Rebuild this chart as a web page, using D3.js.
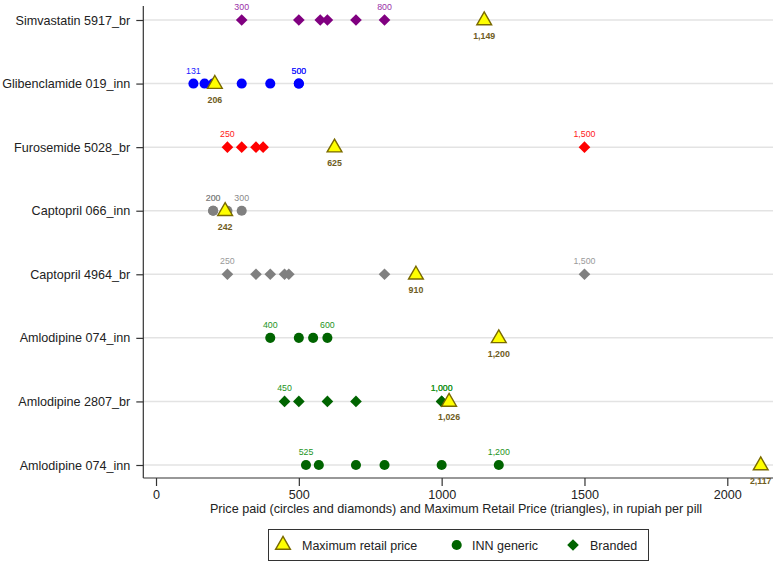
<!DOCTYPE html>
<html>
<head>
<meta charset="utf-8">
<script src="https://cdn.jsdelivr.net/npm/d3@7"></script>
<style>
  html, body { margin: 0; padding: 0; background: #fff; }
  svg { display: block; font-family: "Liberation Sans", Arial, Helvetica, sans-serif; }
</style>
</head>
<body>
<svg id="chart" width="777" height="563"></svg>
<script>
// ---- data ----
const categories = [
  "Simvastatin 5917_br",
  "Glibenclamide 019_inn",
  "Furosemide 5028_br",
  "Captopril 066_inn",
  "Captopril 4964_br",
  "Amlodipine 074_inn",
  "Amlodipine 2807_br",
  "Amlodipine 074_inn "
];
const markerTypes = ["diamond", "circle", "diamond", "circle", "diamond", "circle", "diamond", "circle"];
const markerColors = ["#800080", "#0000ff", "#ff0000", "#808080", "#808080", "#006400", "#006400", "#006400"];
const labelColors = ["#9a30a8", "#2222ff", "#ff2020", "#8a8a8a", "#9a9a9a", "#1c941c", "#1c941c", "#1c941c"];
const pricesPaid = [
  [300, 500, 575, 600, 700, 800],
  [131, 170, 200, 300, 400, 500, 500],
  [250, 300, 350, 375, 1500],
  [200, 200, 250, 300],
  [250, 350, 400, 450, 465, 800, 1500],
  [400, 500, 550, 600],
  [450, 500, 600, 700, 1000, 1000],
  [525, 570, 700, 800, 1000, 1200]
];
const maxRetailPrice = [1149, 206, 625, 242, 910, 1200, 1026, 2117];
const xTicks = [0, 500, 1000, 1500, 2000];
const legendLabels = ["Maximum retail price", "INN generic", "Branded"];

// ---- layout ----
const svg = d3.select("#chart");
const left = 143.3, right = 773, axisY = 478;
const x = d3.scaleLinear().domain([-44.5, 2160]).range([left, right]);
const y = d3.scalePoint().domain(categories).range([20, 465]);
const fmt = d3.format(",");
const triColor = "#ffff00", triStroke = "#7a6a00", triLabel = "#6e5c22";
const axisFont = 12.6;

// gridlines
svg.append("g").selectAll("line").data(categories).join("line")
  .attr("x1", left).attr("x2", right)
  .attr("y1", d => y(d)).attr("y2", d => y(d))
  .attr("stroke", "#e3e3e3").attr("stroke-width", 1.5);

// y axis
const yAxis = svg.append("g").attr("transform", `translate(${left},0)`)
  .call(d3.axisLeft(y).tickSize(7).tickPadding(6));
yAxis.select(".domain").attr("d", `M0,6V${axisY}`).attr("stroke", "#333").attr("stroke-width", 1.2);
yAxis.selectAll(".tick line").attr("stroke", "#333").attr("stroke-width", 1.2);
yAxis.selectAll(".tick text").attr("font-size", axisFont).attr("fill", "#222")
  .attr("font-family", "'Liberation Sans', Arial, sans-serif");

// x axis
const xAxis = svg.append("g").attr("transform", `translate(0,${axisY})`)
  .call(d3.axisBottom(x).tickValues(xTicks).tickFormat(d3.format("d")).tickSize(8).tickPadding(4));
xAxis.select(".domain").attr("d", `M${left},0H${right}`).attr("stroke", "#333").attr("stroke-width", 1.2);
xAxis.selectAll(".tick line").attr("stroke", "#333").attr("stroke-width", 1.2);
xAxis.selectAll(".tick text").attr("font-size", axisFont).attr("fill", "#222")
  .attr("font-family", "'Liberation Sans', Arial, sans-serif");

svg.append("text").attr("x", 456).attr("y", 513)
  .attr("text-anchor", "middle").attr("font-size", axisFont).attr("fill", "#222")
  .text("Price paid (circles and diamonds) and Maximum Retail Price (triangles), in rupiah per pill");

const diamondSym = d3.symbol().type(d3.symbolSquare).size(68);
const circleSym = d3.symbol().type(d3.symbolCircle).size(80);
const triSym = d3.symbol().type(d3.symbolTriangle).size(95);

// price points
categories.forEach((cat, i) => {
  const g = svg.append("g");
  const vals = pricesPaid[i];
  const isD = markerTypes[i] === "diamond";
  g.selectAll("path").data(vals).join("path")
    .attr("d", isD ? diamondSym : circleSym)
    .attr("transform", d => `translate(${x(d)},${y(cat)})` + (isD ? " rotate(45)" : ""))
    .attr("fill", markerColors[i]);
  const mn = d3.min(vals), mx = d3.max(vals);
  const labelled = vals.filter(v => v === mn || v === mx);
  g.selectAll("text").data(labelled).join("text")
    .attr("x", d => x(d)).attr("y", y(cat) - 10)
    .attr("text-anchor", "middle").attr("font-size", 8.8)
    .attr("fill", labelColors[i])
    .text(d => fmt(d));
});

// maximum retail price triangles
const tg = svg.append("g");
tg.selectAll("path").data(maxRetailPrice).join("path")
  .attr("d", triSym)
  .attr("transform", (d, i) => `translate(${x(d)},${y(categories[i]) + 0.5})`)
  .attr("fill", triColor).attr("stroke", triStroke).attr("stroke-width", 1.4);
tg.selectAll("text").data(maxRetailPrice).join("text")
  .attr("x", d => x(d)).attr("y", (d, i) => y(categories[i]) + 19)
  .attr("text-anchor", "middle").attr("font-size", 8.8).attr("font-weight", "bold")
  .attr("fill", triLabel)
  .text(d => fmt(d));

// legend
const lg = svg.append("g");
lg.append("rect").attr("x", 268.5).attr("y", 529.5).attr("width", 380).attr("height", 31)
  .attr("fill", "#fff").attr("stroke", "#333").attr("stroke-width", 1);
const legX = [283, 456.7, 573];
const legTextX = [302, 472, 590];
const legY = 545;
lg.append("path").attr("d", triSym).attr("transform", `translate(${legX[0]},${legY})`)
  .attr("fill", triColor).attr("stroke", triStroke).attr("stroke-width", 1.4);
lg.append("path").attr("d", circleSym).attr("transform", `translate(${legX[1]},${legY})`)
  .attr("fill", "#006400");
lg.append("path").attr("d", diamondSym).attr("transform", `translate(${legX[2]},${legY}) rotate(45)`)
  .attr("fill", "#006400");
lg.selectAll("text").data(legendLabels).join("text")
  .attr("x", (d, i) => legTextX[i]).attr("y", legY + 4.5)
  .attr("font-size", 12.5).attr("fill", "#222")
  .text(d => d);
</script>
</body>
</html>
